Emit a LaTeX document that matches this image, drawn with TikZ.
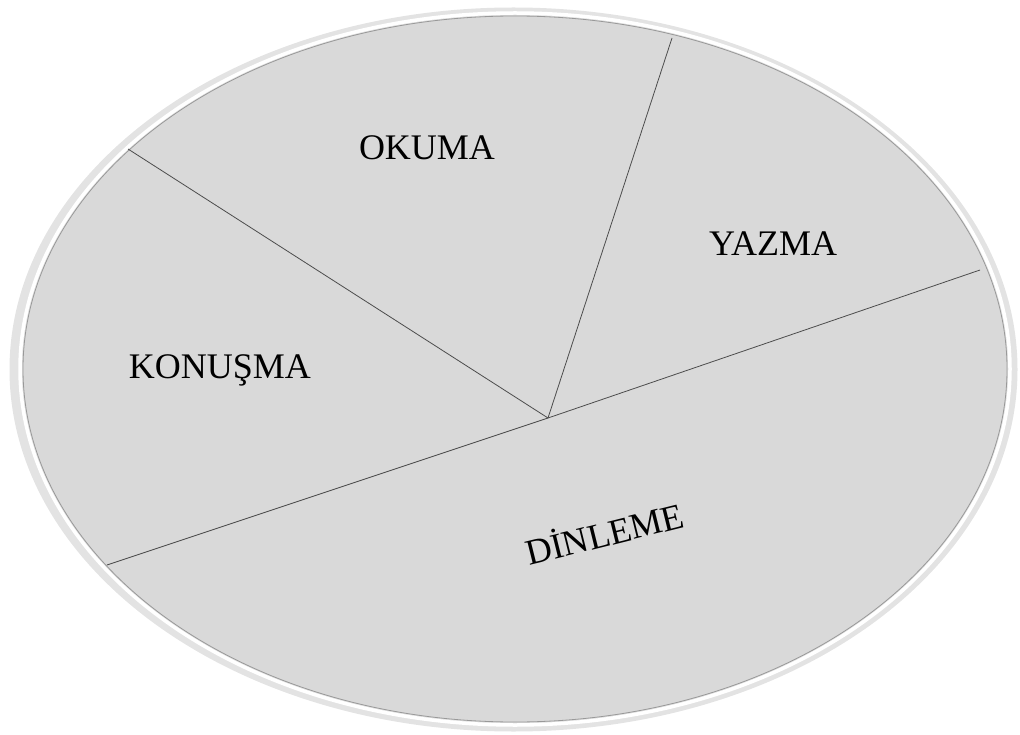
\documentclass[tikz,border=0pt]{standalone}
\usepackage{fontspec}
\setmainfont{Liberation Serif}
\begin{document}
\begin{tikzpicture}[x=1pt,y=-1pt,
  lbl/.style={font=\fontsize{36}{40}\selectfont, text=black, inner sep=0pt},
  divider/.style={draw=black!70, line width=0.8pt}]
\useasboundingbox (0,0) rectangle (1020,735);
% disc
\fill[black!11] (513.5,369.5) ellipse [x radius=504, y radius=362];
\draw[white, line width=3.5pt] (515,369) ellipse [x radius=495, y radius=356];
\fill[black!15] (515,369) ellipse [x radius=492.5, y radius=353.5];
\draw[black!40, line width=0.8pt] (515,369) ellipse [x radius=492, y radius=353];
% dividers
\coordinate (c) at (548,418);
\coordinate (ul) at (128,149);
\coordinate (tp) at (672,38);
\coordinate (rt) at (980,270);
\coordinate (ll) at (107,565);
\draw[divider] (c) -- (ul);
\draw[divider] (c) -- (tp);
\draw[divider] (ll) -- (c) -- (rt);
% labels
\node[lbl] (okuma) at (427,148) {OKUMA};
\node[lbl] (yazma) at (773,244) {YAZMA};
\node[lbl] (konusma) at (220,370) {KONUŞMA};
\node[lbl, rotate=14] (dinleme) at (604,532) {DİNLEME};
\end{tikzpicture}
\end{document}
